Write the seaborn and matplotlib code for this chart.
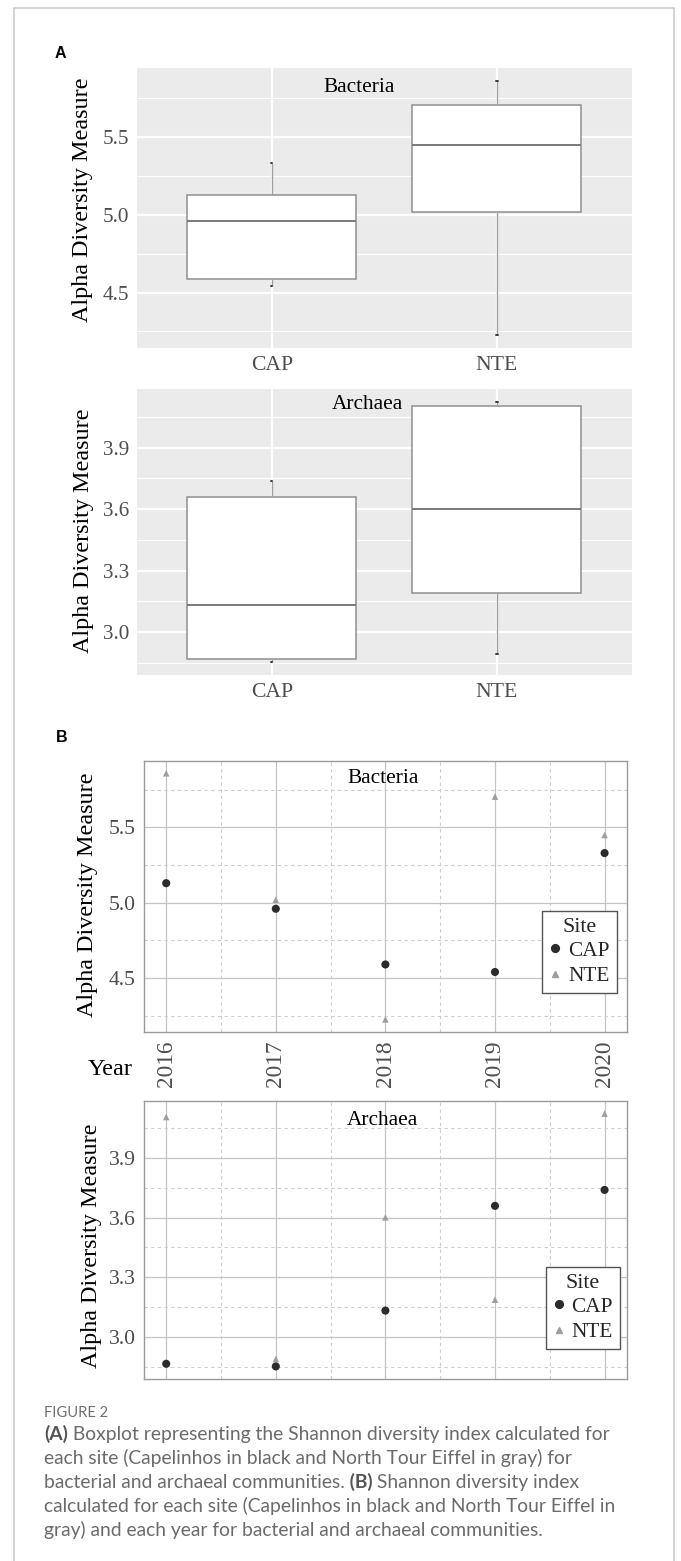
import numpy as np
import pandas as pd
import matplotlib
matplotlib.use("Agg")
import matplotlib.pyplot as plt
from matplotlib.lines import Line2D
from matplotlib.ticker import FixedLocator
import seaborn as sns

# ---------------- data ----------------
years = ["2016", "2017", "2018", "2019", "2020"]
sites = ["CAP", "NTE"]
bact_cap = [5.13, 4.96, 4.59, 4.54, 5.33]
bact_nte = [5.86, 5.02, 4.225, 5.705, 5.45]
arch_cap = [2.866, 2.853, 3.133, 3.659, 3.739]
arch_nte = [4.105, 2.89, 3.601, 3.188, 4.122]
bact_ticks = [4.5, 5.0, 5.5]
arch_ticks = [3.0, 3.3, 3.6, 3.9]
panel_titles = ["Bacteria", "Archaea"]
ylabel_text = "Alpha Diversity Measure"
year_label = "Year"
legend_title = "Site"
caption_head = "FIGURE 2"
caption_lines = [
    [("(A)", True), (" Boxplot representing the Shannon diversity index calculated for", False)],
    [("each site (Capelinhos in black and North Tour Eiffel in gray) for", False)],
    [("bacterial and archaeal communities.", False), (" (B)", True), (" Shannon diversity index", False)],
    [("calculated for each site (Capelinhos in black and North Tour Eiffel in", False)],
    [("gray) and each year for bacterial and archaeal communities.", False)],
]


def make_df(cap, nte):
    return pd.DataFrame({
        "Year": years + years,
        "Site": ["CAP"] * len(cap) + ["NTE"] * len(nte),
        "Value": list(cap) + list(nte),
    })


df_bact = make_df(bact_cap, bact_nte)
df_arch = make_df(arch_cap, arch_nte)

# ---------------- style ----------------
sns.set_style("white")
plt.rcParams["font.family"] = ["Liberation Serif", "DejaVu Serif"]
SERIF = ["Liberation Serif", "DejaVu Serif"]

W, H = 681, 1561
fig = plt.figure(figsize=(W / 100, H / 100), dpi=100)


def rect(l, t, r, b):
    return [l / W, 1 - b / H, (r - l) / W, (b - t) / H]


def ftext(x, y, s, **kw):
    return fig.text(x / W, 1 - y / H, s, **kw)


def ylims(vals):
    lo, hi = min(vals), max(vals)
    pad = 0.05 * (hi - lo)
    return lo - pad, hi + pad


def minor_ticks(ticks, lo, hi):
    step = ticks[1] - ticks[0]
    m = np.arange(ticks[0] - step / 2, hi, step)
    return [v for v in m if lo <= v <= hi]


# outer frame
for xs, ys in [([14, 14], [8, H]), ([14, 674.3], [8, 8]), ([674.3, 674.3], [8, H])]:
    fig.add_artist(Line2D([x / W for x in xs], [1 - y / H for y in ys],
                          color="#c8c8c8", lw=1.1))

# ---------------- panel A: boxplots ----------------
a_rects = [rect(136.7, 68.3, 632, 348), rect(136.7, 389.3, 632, 675)]
a_data = [(df_bact, bact_ticks), (df_arch, arch_ticks)]
for r, (df, ticks) in zip(a_rects, a_data):
    ax = fig.add_axes(r)
    ax.set_facecolor("#ebebeb")
    sns.boxplot(data=df, x="Site", y="Value", order=sites, width=0.75,
                color="white", linecolor="#8f8f8f", linewidth=1.1,
                fliersize=0, ax=ax,
                medianprops={"color": "#7a7a7a", "linewidth": 1.4},
                whiskerprops={"color": "#a0a0a0", "linewidth": 1.0},
                capprops={"color": "#3a3a3a", "linewidth": 1.4},
                capwidths=0.006)
    lo, hi = ylims(df["Value"])
    ax.set_ylim(lo, hi)
    ax.set_xlim(-0.6, 1.6)
    ax.set_yticks(ticks)
    ax.set_yticklabels([f"{t:.1f}" for t in ticks])
    ax.yaxis.set_minor_locator(FixedLocator(minor_ticks(ticks, lo, hi)))
    ax.set_axisbelow(True)
    ax.grid(True, which="major", color="white", lw=1.6)
    ax.grid(True, which="minor", axis="y", color="white", lw=0.8)
    for s in ax.spines.values():
        s.set_visible(False)
    ax.tick_params(which="major", length=3.5, width=0.8, color="#333333",
                   labelcolor="#4d4d4d", pad=2)
    ax.tick_params(axis="y", labelsize=15.2)
    ax.tick_params(axis="x", labelsize=15.6)
    ax.tick_params(which="minor", length=0)
    ax.set_xlabel("")
    ax.set_ylabel("")

# ---------------- panel B: points by year ----------------
b_rects = [rect(144.3, 761, 626.5, 1031.7), rect(144.3, 1101, 626.5, 1379)]
b_legend_anchor = [(542.3, 910.7), (545.7, 1266.7)]
pal = {"CAP": "#2b2b2b", "NTE": "#9e9e9e"}
mk = {"CAP": "o", "NTE": "^"}
for i, (r, (df, ticks)) in enumerate(zip(b_rects, a_data)):
    ax = fig.add_axes(r)
    ax.set_facecolor("white")
    sns.scatterplot(data=df, x="Year", y="Value", hue="Site", style="Site",
                    size="Site", hue_order=sites, style_order=sites,
                    size_order=sites, markers=mk, palette=pal,
                    sizes={"CAP": 34, "NTE": 22}, linewidth=0,
                    legend=False, ax=ax, zorder=3)
    lo, hi = ylims(df["Value"])
    ax.set_ylim(lo, hi)
    ax.set_xlim(-0.2, len(years) - 1 + 0.2)
    ax.set_yticks(ticks)
    ax.set_yticklabels([f"{t:.1f}" for t in ticks])
    ax.yaxis.set_minor_locator(FixedLocator(minor_ticks(ticks, lo, hi)))
    ax.xaxis.set_minor_locator(FixedLocator([k + 0.5 for k in range(len(years) - 1)]))
    ax.set_axisbelow(True)
    ax.grid(True, which="major", color="#c4c4c4", lw=0.9, ls="-")
    ax.grid(True, which="minor", color="#cdcdcd", lw=0.8, ls=(0, (3, 3)))
    for s in ax.spines.values():
        s.set_color("#9a9a9a")
        s.set_linewidth(1.0)
    ax.tick_params(which="both", length=0, labelcolor="#4d4d4d", pad=6)
    ax.tick_params(axis="y", labelsize=15.6)
    ax.tick_params(axis="x", labelsize=16.8, labelrotation=90)
    if i == 1:
        ax.tick_params(axis="x", labelbottom=False)
    ax.set_xlabel("")
    ax.set_ylabel("")
    handles = [Line2D([], [], marker="o", ls="", color=pal["CAP"], markersize=5.6),
               Line2D([], [], marker="^", ls="", color=pal["NTE"], markersize=4.8)]
    lx, ly = b_legend_anchor[i]
    leg = ax.legend(handles, sites, title=legend_title, loc="upper left",
                    bbox_to_anchor=(lx / W, 1 - ly / H),
                    bbox_transform=fig.transFigure, borderaxespad=0,
                    frameon=True, fancybox=False, edgecolor="#555555",
                    framealpha=1, prop={"family": SERIF, "size": 15.3},
                    title_fontproperties={"family": SERIF, "size": 15.8},
                    handlelength=0.6, handletextpad=0.3, borderpad=0.32,
                    labelspacing=0.26)
    leg.get_frame().set_linewidth(1.0)
    leg._legend_box.sep = 3

# ---------------- texts ----------------
title_pos = [(359.5, 91.7), (367.8, 409.3), (383, 783.3), (382.6, 1125)]
ttl = [panel_titles[0], panel_titles[1], panel_titles[0], panel_titles[1]]
for (x, y), s in zip(title_pos, ttl):
    ftext(x, y, s, ha="center", va="baseline", fontsize=15.4, family=SERIF,
          color="black")

ylab_pos = [(88.3, 200), (89, 530.3), (93.4, 894.7), (96.7, 1245.5)]
for x, y in ylab_pos:
    ftext(x, y, ylabel_text, rotation=90, rotation_mode="anchor", ha="center",
          va="baseline", fontsize=17.4, family=SERIF, color="black")

ftext(87.7, 1075, year_label, ha="left", va="baseline", fontsize=17.5,
      family=SERIF, color="black")

SANS = ["Liberation Sans", "DejaVu Sans"]
ftext(55, 58.3, "A", ha="left", va="baseline", fontsize=11.5,
      fontweight="bold", family=SANS, color="black")
ftext(55.6, 741.7, "B", ha="left", va="baseline", fontsize=11.5,
      fontweight="bold", family=SANS, color="black")

# caption
CAP_FONT = ["Lato", "DejaVu Sans"]
ftext(44, 1416.7, caption_head, ha="left", va="baseline", fontsize=10.6,
      family=CAP_FONT, color="#6f6f6f")

renderer = fig.canvas.get_renderer()


def draw_line(segs, x0, y, size, draw=True):
    x = x0
    objs = []
    for s, bold in segs:
        t = ftext(x, y, s, ha="left", va="baseline", fontsize=size,
                  family=CAP_FONT, fontweight="bold" if bold else "normal",
                  color="#555555" if bold else "#6b6b6b")
        bb = t.get_window_extent(renderer)
        x += bb.width
        objs.append(t)
    if not draw:
        for t in objs:
            t.remove()
    return x - x0


trial = 12.0
w1 = draw_line(caption_lines[0], 44, 1440, trial, draw=False)
cap_size = trial * 566.0 / w1
baselines = [1440, 1464, 1488, 1512, 1536]
for segs, yb in zip(caption_lines, baselines):
    draw_line(segs, 44, yb, cap_size)

fig.savefig("out.png", dpi=100)
